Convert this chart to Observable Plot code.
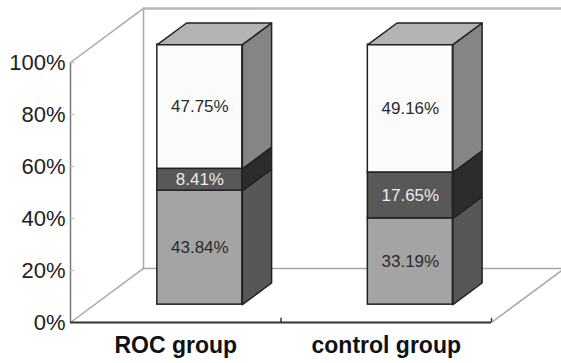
<!DOCTYPE html>
<html>
<head>
<meta charset="utf-8">
<script src="https://cdn.jsdelivr.net/npm/d3@7"></script>
<script src="https://cdn.jsdelivr.net/npm/@observablehq/plot@0.6"></script>
<style>
  html, body { margin: 0; padding: 0; background: #fff; }
  #chart svg { display: block; }
</style>
</head>
<body>
<div id="chart"></div>
<script>
// Categories and stacked shares (percent), bottom to top
const groups = ["ROC group", "control group"];
const lowerShare = [43.84, 33.19];
const middleShare = [8.41, 17.65];
const upperShare = [47.75, 49.16];
const yTicks = [0, 20, 40, 60, 80, 100];

// Face colours for each stack layer: front, side
const layers = [
  {values: lowerShare, front: "#a4a4a4", side: "#575757", label: "#2a2a2a"},
  {values: middleShare, front: "#585858", side: "#2c2c2c", label: "#ececec"},
  {values: upperShare, front: "#fbfbfb", side: "#858585", label: "#2a2a2a"}
];
const topColor = "#b3b3b3";

// Pseudo-3D geometry, in data units (x: category units, y: percent)
const wallDX = 0.347, wallDY = 20.8;   // depth of the floor / side wall
const zFront = 0.33, zBack = 0.73;     // bar depth as a fraction of the wall depth
const halfW = 0.202;                   // half width of a bar's front face

const fronts = [], polys = [], labels = [];
groups.forEach((g, i) => {
  const cx = i + 0.5 + zFront * wallDX;
  const oy = zFront * wallDY;
  const xL = cx - halfW, xR = cx + halfW;
  const sdx = (zBack - zFront) * wallDX, sdy = (zBack - zFront) * wallDY;
  let base = 0;
  layers.forEach((L, k) => {
    const v = L.values[i];
    const y0 = base + oy, y1 = base + v + oy;
    fronts.push({x1: xL, x2: xR, y1: y0, y2: y1, fill: L.front});
    const id = `side-${i}-${k}`;
    [[xR, y0], [xR + sdx, y0 + sdy], [xR + sdx, y1 + sdy], [xR, y1], [xR, y0]]
      .forEach(([x, y]) => polys.push({id, x, y, fill: L.side}));
    labels.push({x: cx, y: (y0 + y1) / 2, text: v.toFixed(2) + "%", fill: L.label});
    base += v;
  });
  const yt = base + oy, id = `top-${i}`;
  [[xL, yt], [xR, yt], [xR + sdx, yt + sdy], [xL + sdx, yt + sdy], [xL, yt]]
    .forEach(([x, y]) => polys.push({id, x, y, fill: topColor}));
});

// Back wall and floor outline
const wall = [
  {id: "a", x: 0, y: 100}, {id: "a", x: wallDX, y: 100 + wallDY},
  {id: "b", x: 0, y: 0}, {id: "b", x: wallDX, y: wallDY},
  {id: "c", x: wallDX, y: wallDY}, {id: "c", x: wallDX, y: 100 + wallDY},
  {id: "d", x: wallDX, y: wallDY}, {id: "d", x: 2 + wallDX, y: wallDY}, {id: "d", x: 2, y: 0}
];
const backTop = [{x: wallDX, y: 100 + wallDY}, {x: 2 + wallDX + 0.1, y: 100 + wallDY}];

const chart = Plot.plot({
  width: 561,
  height: 363,
  marginLeft: 70,
  marginRight: 70,
  marginTop: 62,
  marginBottom: 41,
  x: {domain: [0, 2], axis: null},
  y: {domain: [0, 100], axis: null},
  style: {fontFamily: "'Liberation Sans', Arial, sans-serif", background: "white", overflow: "visible"},
  marks: [
    Plot.line(wall, {x: "x", y: "y", z: "id", stroke: "#a8a8a8", strokeWidth: 1.5}),
    Plot.line(backTop, {x: "x", y: "y", stroke: "#b8b8b8", strokeWidth: 2.5}),
    // front y axis with inward ticks
    Plot.ruleX([0], {y1: 0, y2: 100, stroke: "#777", strokeWidth: 1.5}),
    Plot.ruleY(yTicks, {x1: 0, x2: 0.02, stroke: "#bbb"}),
    Plot.text(yTicks, {x: 0, y: d => d, text: d => d + "%", textAnchor: "end", dx: -5, fontSize: 22, fill: "#222"}),
    // front floor edge
    Plot.ruleY([0], {x1: 0, x2: 2, stroke: "#333", strokeWidth: 1.8}),
    Plot.ruleX([1, 2], {y1: 0, y2: 1.6, stroke: "#333", strokeWidth: 1.5}),
    Plot.text(groups, {x: (d, i) => i + 0.5, y: 0, dy: 23, text: d => d, fontSize: 23, fontWeight: "bold", fill: "#111"}),
    // bars
    Plot.rect(fronts, {x1: "x1", x2: "x2", y1: "y1", y2: "y2", fill: "fill", stroke: "#222", strokeWidth: 1.5}),
    Plot.line(polys, {x: "x", y: "y", z: "id", fill: "fill", stroke: "#222", strokeWidth: 1.5, strokeLinejoin: "round"}),
    Plot.text(labels, {x: "x", y: "y", text: "text", fill: "fill", fontSize: 17})
  ]
});
document.getElementById("chart").append(chart);
</script>
</body>
</html>
